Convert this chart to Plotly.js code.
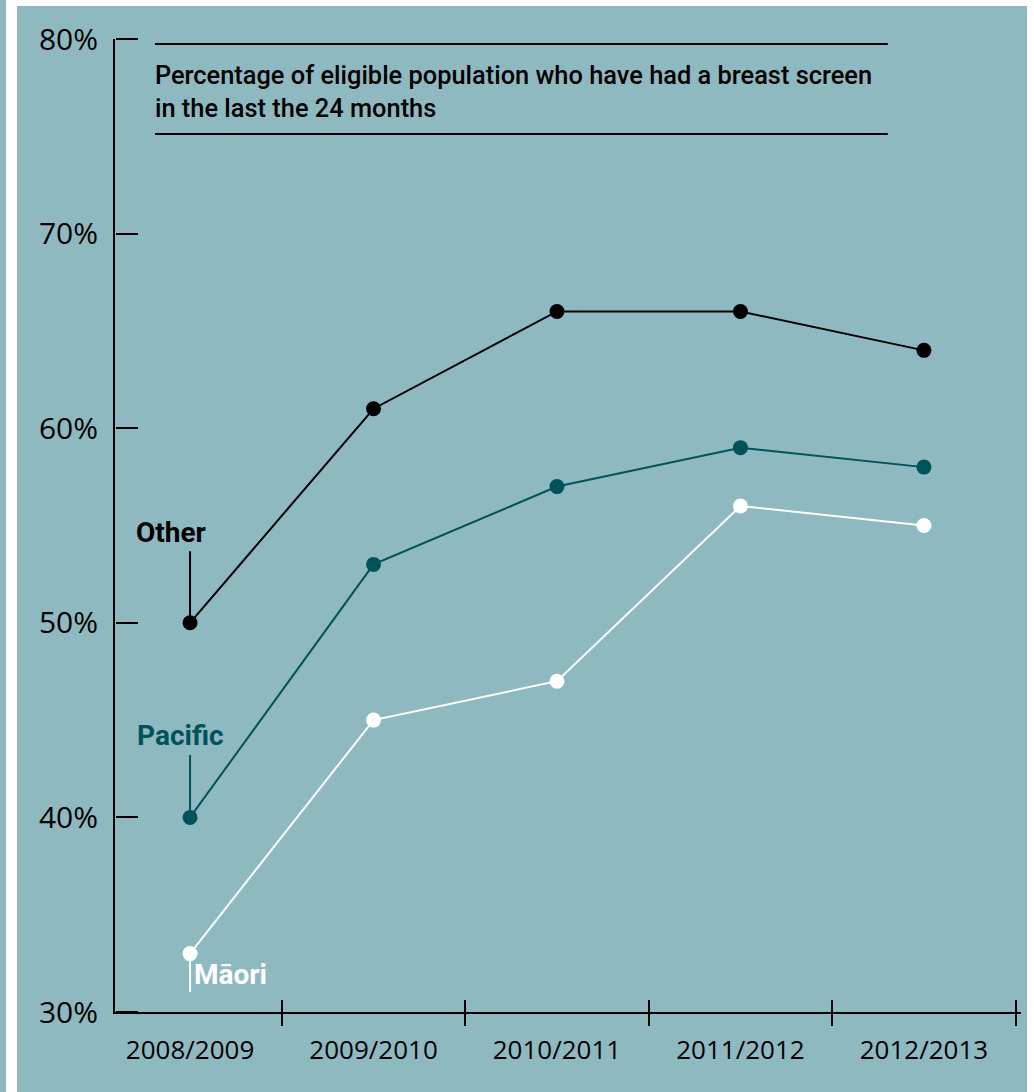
<!DOCTYPE html>
<html>
<head>
<meta charset="utf-8">
<script src="https://cdn.plot.ly/plotly-3.0.1.min.js"></script>
<style>
html,body{margin:0;padding:0;background:#ffffff;width:1034px;height:1092px;overflow:hidden;}
#strip{position:absolute;left:0;top:0;width:6px;height:1092px;background:#8fb9c1;}
#chart{position:absolute;left:17px;top:6px;width:1010px;height:1086px;}
</style>
</head>
<body>
<div id="strip"></div>
<div id="chart"></div>
<script>
// ---- data ----
const years = ['2008/2009', '2009/2010', '2010/2011', '2011/2012', '2012/2013'];
const otherValues = [50, 61, 66, 66, 64];
const pacificValues = [40, 53, 57, 59, 58];
const maoriValues = [33, 45, 47, 56, 55];
const yTicks = [30, 40, 50, 60, 70, 80];
const yTickText = ['30%', '40%', '50%', '60%', '70%', '80%'];
const seriesNames = ['Other', 'Pacific', 'Māori'];
const chartTitle = 'Percentage of eligible population who have had a breast screen<br>in the last the 24 months';

// ---- style ----
const BG = '#8fb9c1';
const TEAL = '#00525b';
const condensed = '"Liberation Sans Narrow", "Arial Narrow", "Roboto", sans-serif';
const tickFont = '"Open Sans", "Noto Sans", sans-serif';

function series(vals, color, name) {
  return {
    type: 'scatter', mode: 'lines+markers', name: name,
    x: years, y: vals,
    line: {color: color, width: 2},
    marker: {color: color, size: 15},
    hoverinfo: 'skip'
  };
}

const traces = [
  series(otherValues, '#000000', seriesNames[0]),
  series(pacificValues, TEAL, seriesNames[1]),
  series(maoriValues, '#ffffff', seriesNames[2]),
  // carrier for the inward-facing tick axes (draws nothing)
  {type: 'scatter', mode: 'none', x: years, y: otherValues, xaxis: 'x2', yaxis: 'y2', hoverinfo: 'skip', showlegend: false}
];

const xRange = [-0.409, 4.529];
const yRange = [30, 80];
const labelFont = (c) => ({family: condensed, size: 28, color: c, weight: 'bold'});

const annotations = [
  // leader lines
  {x: years[0], y: otherValues[0], ax: 0, ay: -73, text: '', showarrow: true, arrowhead: 0, arrowwidth: 2, arrowcolor: '#000000', standoff: 0},
  {x: years[0], y: pacificValues[0], ax: 0, ay: -64, text: '', showarrow: true, arrowhead: 0, arrowwidth: 2, arrowcolor: TEAL, standoff: 0},
  {x: years[0], y: maoriValues[0], ax: 0, ay: 40, text: '', showarrow: true, arrowhead: 0, arrowwidth: 2, arrowcolor: '#ffffff', standoff: 0},
  // labels
  {x: years[0], y: otherValues[0], text: '<b>' + seriesNames[0] + '</b>', showarrow: false, xshift: -19, yshift: 90, font: labelFont('#000000')},
  {x: years[0], y: pacificValues[0], text: '<b>' + seriesNames[1] + '</b>', showarrow: false, xshift: -10, yshift: 82, font: labelFont(TEAL)},
  {x: years[0], y: maoriValues[0], text: '<b>' + seriesNames[2] + '</b>', showarrow: false, xshift: 40, yshift: -21, font: labelFont('#ffffff')}
];

const shapes = [
  {type: 'line', xref: 'paper', yref: 'paper', x0: 0.0442, x1: 0.853, y0: 0.9949, y1: 0.9949, line: {color: '#000', width: 2}},
  {type: 'line', xref: 'paper', yref: 'paper', x0: 0.0442, x1: 0.853, y0: 0.9024, y1: 0.9024, line: {color: '#000', width: 2}}
];

const layout = {
  width: 1010, height: 1086,
  paper_bgcolor: BG, plot_bgcolor: 'rgba(0,0,0,0)',
  margin: {l: 98, r: 6, t: 33, b: 80, pad: 0},
  showlegend: false,
  title: {
    text: chartTitle, xref: 'container', yref: 'container',
    x: 0.1366, xanchor: 'left', y: 0.928, yanchor: 'top',
    font: {family: condensed, size: 25.4, color: '#000', weight: 500}
  },
  xaxis: {
    type: 'category', categoryorder: 'array', categoryarray: years,
    range: xRange, showgrid: false, zeroline: false,
    showline: true, linecolor: '#000', linewidth: 2,
    ticks: 'outside', ticklen: 12, tickwidth: 2, tickcolor: '#000',
    tickson: 'boundaries',
    tickfont: {family: tickFont, size: 26, color: '#000'},
    ticklabelstandoff: 14
  },
  xaxis2: {
    type: 'category', categoryorder: 'array', categoryarray: years,
    overlaying: 'x', anchor: 'free', position: 0, side: 'top',
    range: xRange, showgrid: false, zeroline: false, showline: false,
    ticks: 'outside', ticklen: 12, tickwidth: 2, tickcolor: '#000',
    tickson: 'boundaries', showticklabels: false
  },
  yaxis: {
    range: yRange, tickmode: 'array', tickvals: yTicks, ticktext: yTickText,
    showgrid: false, zeroline: false,
    showline: true, linecolor: '#000', linewidth: 2,
    ticks: '',
    tickfont: {family: tickFont, size: 30, color: '#000'},
    ticklabelstandoff: 9
  },
  yaxis2: {
    range: yRange, tickmode: 'array', tickvals: yTicks,
    overlaying: 'y', anchor: 'free', position: 0, side: 'right',
    showgrid: false, zeroline: false, showline: false,
    ticks: 'outside', ticklen: 22, tickwidth: 2, tickcolor: '#000',
    showticklabels: false
  },
  annotations: annotations,
  shapes: shapes
};

Plotly.newPlot('chart', traces, layout, {staticPlot: true, displayModeBar: false});
</script>
</body>
</html>
